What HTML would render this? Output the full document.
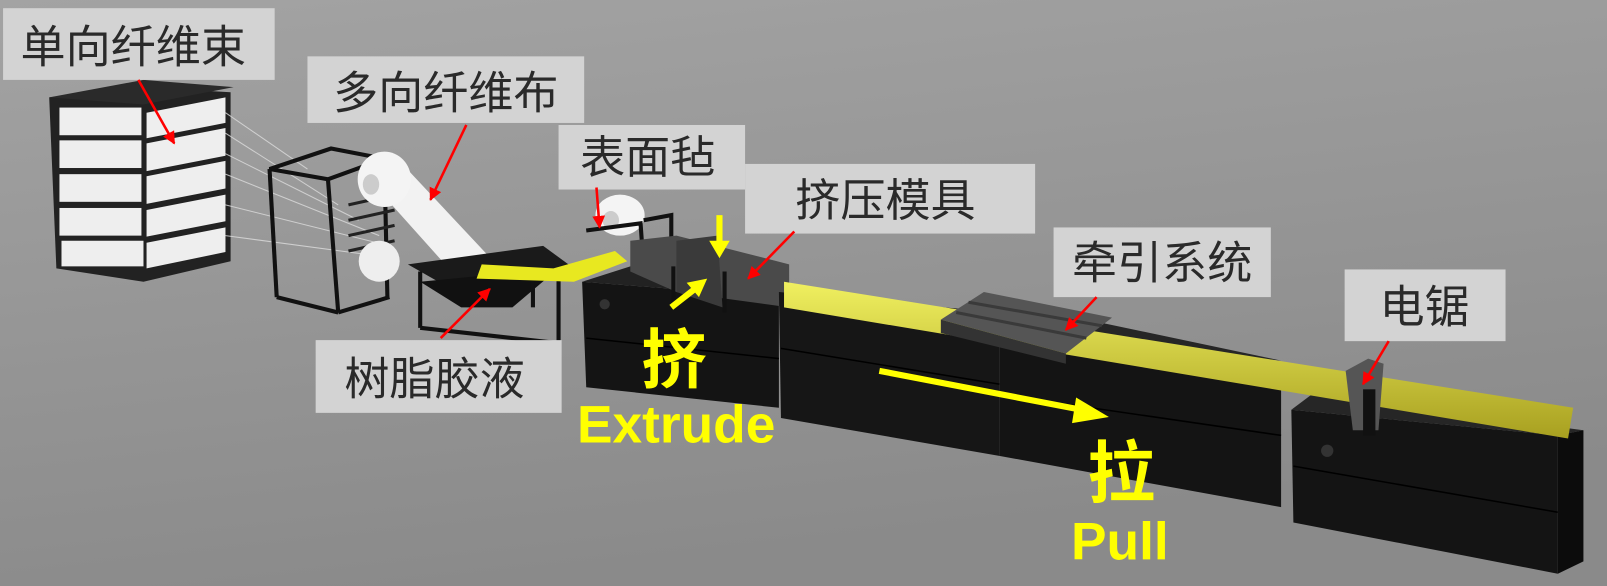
<!DOCTYPE html>
<html><head><meta charset="utf-8"><style>
html,body{margin:0;padding:0;width:1607px;height:586px;overflow:hidden;background:#999}
svg{display:block}
.lb{fill:#d3d3d3}
.lt{font-family:"Liberation Sans","Noto Sans CJK SC",sans-serif;font-size:44px;fill:#2a2a2a}
.y{font-family:"Liberation Sans","Noto Sans CJK SC",sans-serif;font-weight:bold;fill:#ffff00}
</style></head><body>
<svg width="1607" height="586" viewBox="0 0 1568 572" preserveAspectRatio="none" xmlns="http://www.w3.org/2000/svg">
<defs>
<linearGradient id="bg" x1="0" y1="0" x2="0.3" y2="1"><stop offset="0" stop-color="#a3a3a3"/><stop offset="1" stop-color="#8a8a8a"/></linearGradient>
<linearGradient id="yl" x1="0" y1="0" x2="0" y2="1"><stop offset="0" stop-color="#f0f060"/><stop offset="1" stop-color="#a8a020"/></linearGradient>
<marker id="ar" viewBox="0 0 10 10" refX="9" refY="5" markerWidth="5" markerHeight="5" orient="auto"><path d="M0 0L10 5L0 10z" fill="#f00"/></marker>
</defs>
<rect width="1568" height="572" fill="url(#bg)"/>
<!-- creel -->
<polygon points="48,95 140,85 225,90 225,255 140,275 55,262" fill="#222"/>
<g fill="#eee">
<rect x="58" y="105" width="80" height="27"/><rect x="58" y="137" width="80" height="27"/><rect x="58" y="170" width="80" height="27"/><rect x="58" y="203" width="80" height="27"/><rect x="60" y="235" width="80" height="25"/>
<polygon points="143,110 220,95 220,120 143,135"/><polygon points="143,140 220,125 220,152 143,167"/><polygon points="143,172 220,157 220,184 143,199"/><polygon points="143,205 220,190 220,216 143,231"/><polygon points="143,237 220,222 220,246 143,262"/>
</g>
<polygon points="48,95 140,78 228,85 140,102" fill="#2a2a2a"/>
<g stroke="#ddd" stroke-width="1" opacity="0.8">
<line x1="220" y1="110" x2="300" y2="165"/><line x1="220" y1="130" x2="330" y2="200"/><line x1="220" y1="150" x2="350" y2="215"/><line x1="220" y1="170" x2="370" y2="230"/><line x1="220" y1="200" x2="380" y2="240"/><line x1="220" y1="230" x2="370" y2="250"/>
</g>
<!-- frame 2 -->
<g stroke="#111" stroke-width="4" fill="none">
<polygon points="263,165 323,145 375,155 320,175"/>
<line x1="263" y1="165" x2="270" y2="290"/><line x1="320" y1="175" x2="330" y2="305"/><line x1="375" y1="155" x2="378" y2="290"/>
<line x1="270" y1="290" x2="330" y2="305"/><line x1="330" y1="305" x2="380" y2="290"/>
</g>
<g stroke="#222" stroke-width="3"><line x1="340" y1="200" x2="385" y2="190"/><line x1="340" y1="215" x2="385" y2="205"/><line x1="340" y1="230" x2="385" y2="220"/><line x1="340" y1="245" x2="385" y2="235"/></g>
<!-- fabric roll and band -->
<polygon points="360,175 400,168 488,262 445,270" fill="#f2f2f2"/>
<ellipse cx="375" cy="175" rx="26" ry="27" fill="#f4f4f4"/><ellipse cx="362" cy="180" rx="8" ry="10" fill="#ccc"/>
<ellipse cx="370" cy="255" rx="20" ry="20" fill="#eee"/>
<!-- resin tray -->
<polygon points="398,258 530,240 560,262 440,282" fill="#1a1a1a"/>
<polygon points="410,275 545,262 500,300 450,300" fill="#111"/>
<g stroke="#111" stroke-width="4"><line x1="410" y1="265" x2="410" y2="320"/><line x1="545" y1="262" x2="545" y2="335"/><line x1="410" y1="320" x2="545" y2="335"/><line x1="520" y1="262" x2="520" y2="300"/></g>
<polygon points="470,258 540,262 600,245 612,255 560,275 465,272" fill="#e8e820"/>
<!-- felt roll -->
<ellipse cx="605" cy="210" rx="24" ry="20" fill="#f4f4f4"/><ellipse cx="596" cy="215" rx="8" ry="9" fill="#ccc"/>
<g stroke="#111" stroke-width="4" fill="none"><polyline points="572,225 625,218 628,260"/><polyline points="628,215 655,210 655,235"/></g>
<!-- machine 1 -->
<polygon points="568,275 760,290 760,398 572,378" fill="#141414"/>
<polygon points="568,275 615,260 765,275 760,290" fill="#222"/>
<polygon points="615,235 660,230 770,258 770,300 660,285 615,265" fill="#4a4a4a"/>
<polygon points="660,235 700,230 705,300 660,285" fill="#3a3a3a"/>
<line x1="657" y1="260" x2="657" y2="300" stroke="#111" stroke-width="4"/><line x1="707" y1="265" x2="707" y2="305" stroke="#111" stroke-width="4"/>
<circle cx="590" cy="297" r="5" fill="#333"/>
<!-- machine 2 -->
<polygon points="760,285 975,305 975,445 762,408" fill="#161616"/>
<!-- machine 3 -->
<polygon points="975,325 1250,355 1250,495 975,445" fill="#141414"/>
<polygon points="945,315 1060,312 1250,352 975,325" fill="#262626"/>
<!-- machine 4 -->
<polygon points="1260,400 1520,425 1520,560 1262,510" fill="#141414"/>
<polygon points="1260,400 1280,385 1545,420 1520,425" fill="#262626"/>
<polygon points="1520,425 1545,420 1545,548 1520,560" fill="#0c0c0c"/>
<circle cx="1295" cy="440" r="6" fill="#333"/>
<g stroke="#000" stroke-width="1.5"><line x1="572" y1="330" x2="760" y2="350"/><line x1="762" y1="340" x2="975" y2="375"/><line x1="975" y1="385" x2="1250" y2="425"/><line x1="1262" y1="455" x2="1520" y2="500"/></g>
<!-- yellow profile -->
<polygon points="765,275 1535,398 1530,428 765,300" fill="url(#yl)"/>
<!-- puller -->
<polygon points="918,312 960,285 1085,310 1040,345" fill="#555"/>
<polygon points="918,312 1040,345 1040,355 918,325" fill="#333"/>
<g stroke="#3a3a3a" stroke-width="3"><line x1="945" y1="295" x2="1075" y2="318"/><line x1="933" y1="305" x2="1060" y2="330"/></g>
<!-- saw -->
<polygon points="1313,362 1335,350 1350,355 1345,420 1320,420" fill="#555"/>
<rect x="1330" y="380" width="12" height="45" fill="#111"/>
<!-- labels -->
<rect class="lb" x="3" y="8" width="265" height="70"/><text class="lt" x="20" y="61">单向纤维束</text>
<rect class="lb" x="300" y="55" width="270" height="65"/><text class="lt" x="325" y="106">多向纤维布</text>
<rect class="lb" x="545" y="122" width="182" height="63"/><text class="lt" x="566" y="169">表面毡</text>
<rect class="lb" x="727" y="160" width="283" height="68"/><text class="lt" x="776" y="211">挤压模具</text>
<rect class="lb" x="1028" y="222" width="212" height="68"/><text class="lt" x="1046" y="272">牵引系统</text>
<rect class="lb" x="1312" y="263" width="157" height="70"/><text class="lt" x="1346" y="315">电锯</text>
<rect class="lb" x="308" y="332" width="240" height="71"/><text class="lt" x="336" y="385">树脂胶液</text>
<!-- red arrows -->
<g stroke="#f00" stroke-width="2.5" marker-end="url(#ar)">
<line x1="135" y1="78" x2="170" y2="140"/>
<line x1="455" y1="122" x2="420" y2="195"/>
<line x1="582" y1="183" x2="585" y2="222"/>
<line x1="775" y1="226" x2="730" y2="272"/>
<line x1="1070" y1="290" x2="1040" y2="322"/>
<line x1="1355" y1="333" x2="1330" y2="375"/>
<line x1="430" y1="330" x2="478" y2="282"/>
</g>
<!-- yellow arrows -->
<g stroke="#ffff00" stroke-width="6" fill="#ffff00">
<line x1="702" y1="210" x2="702" y2="238"/><polygon points="692,235 712,235 702,252" stroke="none"/>
<line x1="655" y1="300" x2="678" y2="282"/><polygon points="670,276 690,272 682,290" stroke="none"/>
<line x1="858" y1="362" x2="1055" y2="400"/><polygon points="1050,388 1082,407 1046,413" stroke="none"/>
</g>
<text class="y" x="626" y="374" font-size="64">挤</text>
<text class="y" x="563" y="432" font-size="52">Extrude</text>
<text class="y" x="1061" y="485" font-size="66">拉</text>
<text class="y" x="1045" y="546" font-size="52">Pull</text>
</svg>
</body></html>
